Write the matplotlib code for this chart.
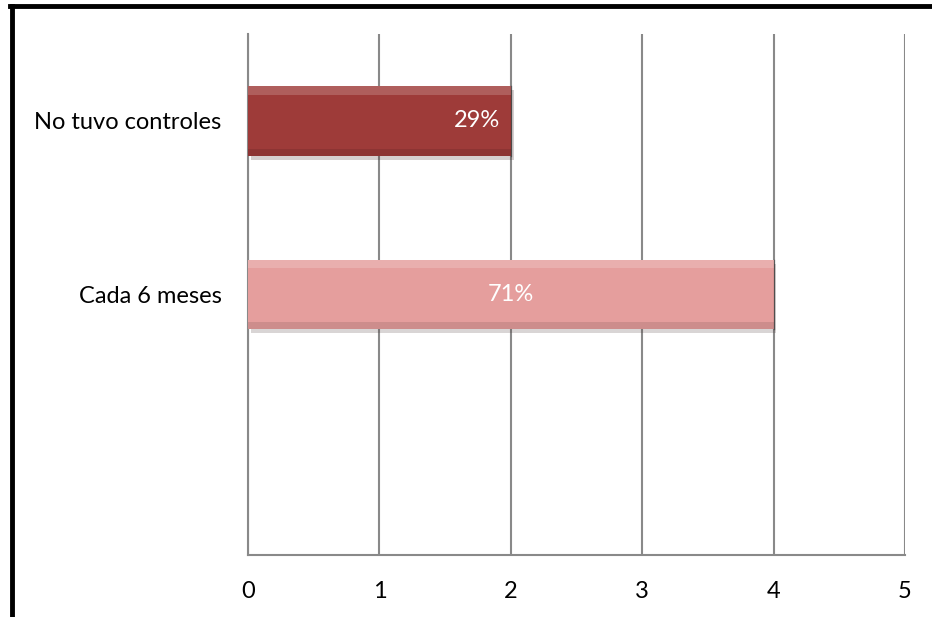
import matplotlib.pyplot as plt
import matplotlib.patheffects as pe
from matplotlib.lines import Line2D

# data (bottom to top, as the chart stacks them)
categories = ["", "Cada 6 meses", "No tuvo controles"]
values = [0, 4, 2]
pct_labels = ["", "71%", "29%"]
bar_colors = ["#FFFFFF", "#E59E9D", "#9E3B39"]
ticks = [0, 1, 2, 3, 4, 5]

plt.rcParams['font.family'] = ['Lato', 'DejaVu Sans']

fig = plt.figure(figsize=(9.32, 6.17), dpi=100)
ax = fig.add_axes([248 / 932, 1 - 555 / 617, (905 - 248) / 932, (555 - 34) / 617])

ypos = list(range(len(categories)))
h = 0.40
bars = ax.barh(ypos, values, height=h, color=bar_colors, zorder=3,
               edgecolor="none")
for b in bars:
    b.set_path_effects([pe.SimplePatchShadow(offset=(2, -3), alpha=0.2), pe.Normal()])

# simple bevel look: lighter strip on top, darker strip at bottom
for y, v, c in zip(ypos, values, bar_colors):
    if v == 0:
        continue
    ax.barh(y + h / 2 - 0.025, v, height=0.05, color="white", alpha=0.18,
            zorder=4, edgecolor="none")
    ax.barh(y - h / 2 + 0.02, v, height=0.04, color="black", alpha=0.10,
            zorder=4, edgecolor="none")
    ax.plot([v, v], [y - h / 2, y + h / 2], color="black", alpha=0.35, lw=1, zorder=5)

# percentage labels
ax.text(values[2] - 0.08, ypos[2], pct_labels[2], color="white", fontsize=17,
        ha="right", va="center", zorder=6)
ax.text(values[1] / 2, ypos[1], pct_labels[1], color="white", fontsize=17,
        ha="center", va="center", zorder=6)

ax.set_xlim(0, 5)
ax.set_ylim(-0.5, 2.5)
ax.set_xticks(ticks)
ax.set_xticklabels([str(t) for t in ticks], fontsize=17)
ax.set_yticks(ypos)
ax.set_yticklabels(categories, fontsize=17)
ax.tick_params(length=0, pad=19, axis="x")
ax.tick_params(length=0, pad=19, axis="y")

ax.grid(axis="x", color="#898989", lw=1.5, zorder=0)
for s in ["top", "right"]:
    ax.spines[s].set_visible(False)
for s in ["left", "bottom"]:
    ax.spines[s].set_color("#898989")
    ax.spines[s].set_linewidth(1.5)

# black frame on left and top
fig.add_artist(Line2D([12 / 932, 12 / 932], [0, 1 - 6 / 617], color="black", lw=3.5,
                      transform=fig.transFigure))
fig.add_artist(Line2D([10 / 932, 1], [1 - 6 / 617, 1 - 6 / 617], color="black", lw=3.5,
                      transform=fig.transFigure))

fig.savefig("out.png", dpi=100)
